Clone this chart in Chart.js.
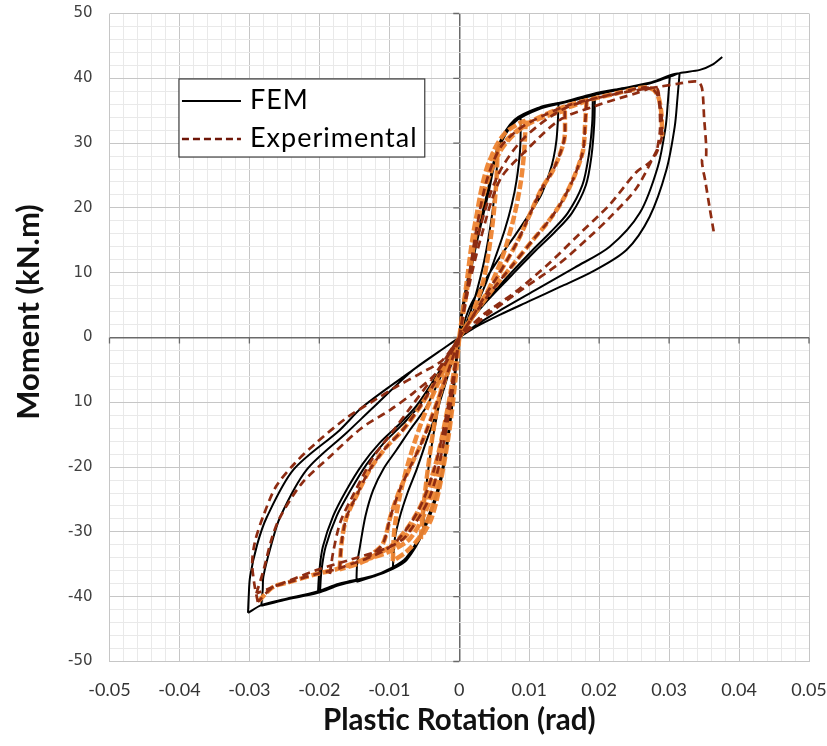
<!DOCTYPE html>
<html>
<head>
<meta charset="utf-8">
<script src="https://cdn.jsdelivr.net/npm/chart.js@4.4.1/dist/chart.umd.min.js"></script>
<style>
  html, body { margin: 0; padding: 0; background: #ffffff; }
  #wrap { width: 827px; height: 746px; position: relative; }
</style>
</head>
<body>
<div id="wrap"><canvas id="c"></canvas></div>
<script>
// ---------- chart data (rotation [rad], moment [kN.m]); null = break between branches ----------
const xTickLabels = ['-0.05', '-0.04', '-0.03', '-0.02', '-0.01', '0', '0.01', '0.02', '0.03', '0.04', '0.05'];
const yTickLabels = ['-50', '-40', '-30', '-20', '10', '0', '10', '20', '30', '40', '50'];
const xTitle = 'Plastic Rotation (rad)';
const yTitle = 'Moment (kN.m)';
const seriesNames = ['FEM', 'Experimental'];

// FEM (black solid)
const femCurve = [
  // cycle ~0.005
  [0,0],[0.0003,3.7],[0.0012,9],[0.0022,14],[0.0032,18.8],[0.0041,22.8],[0.0055,29.4], null,
  [0.0055,29.4],[0.0053,25],[0.0047,19],[0.0036,12],[0.0022,6],[0.001,2.2],[0,0], null,
  [0,0],[-0.0004,-4],[-0.0014,-14.3],[-0.0028,-23],[-0.0042,-27.5],[-0.0052,-30.2], null,
  [-0.0052,-30.2],[-0.0049,-25],[-0.0042,-18.5],[-0.0031,-11.5],[-0.0018,-5.5],[-0.0007,-2],[0,0], null,
  // cycle ~0.009
  [0,0],[0.0003,3.7],[0.0022,14],[0.0041,22.8],[0.0055,29.4],[0.0068,32],[0.0079,33.4],[0.0088,33.9], null,
  [0.0088,33.9],[0.0087,29],[0.0082,24.3],[0.0075,20.5],[0.0065,16.6],[0.0052,12.5],[0.0036,7.8],[0.0018,3.5],[0,0], null,
  [0,0],[-0.0004,-4],[-0.0014,-14.3],[-0.0028,-23],[-0.0052,-30.2],[-0.0075,-34.3],[-0.0095,-35.7], null,
  [-0.0095,-35.7],[-0.0092,-31],[-0.0085,-27.7],[-0.0074,-24],[-0.0061,-20.4],[-0.0047,-16],[-0.0033,-11.7],[-0.0018,-6.5],[-0.0007,-2.5],[0,0], null,
  // cycle ~0.014
  [0,0],[0.0003,3.7],[0.0022,14],[0.0041,22.8],[0.0055,29.4],[0.0079,33.6],[0.0117,35.6],[0.0142,36.2], null,
  [0.0142,36.2],[0.0141,33.5],[0.0139,30.5],[0.0135,27.8],[0.0129,25.4],[0.0117,22],[0.0101,19.2],[0.008,15.8],[0.0058,12.4],[0.0035,8.5],[0.0015,4.7],[0,0], null,
  [0,0],[-0.0004,-4],[-0.0014,-14.3],[-0.0028,-23],[-0.0052,-30.2],[-0.0075,-34.3],[-0.0095,-35.7],[-0.0123,-36.9],[-0.0147,-37.7], null,
  [-0.0147,-37.7],[-0.0146,-35],[-0.0142,-32.3],[-0.0134,-27.5],[-0.0123,-23.5],[-0.0108,-20.2],[-0.009,-17.4],[-0.007,-14.2],[-0.0047,-10.7],[-0.0022,-5],[0,0], null,
  // cycles ~0.02 (two)
  [0,0],[0.0003,3.7],[0.0022,14],[0.0041,22.8],[0.0055,29.4],[0.0079,33.6],[0.0117,35.6],[0.0151,36.4],[0.0191,37.6], null,
  [0.0191,37.6],[0.019,33],[0.0185,28],[0.0176,23.5],[0.0155,19.2],[0.013,16.2],[0.0105,13.5],[0.007,9.5],[0.0034,5.2],[0.001,1.8],[0,0], null,
  [0,0],[-0.0004,-4],[-0.0014,-14.3],[-0.0028,-23],[-0.0052,-30.2],[-0.0075,-34.3],[-0.0095,-35.7],[-0.0123,-36.9],[-0.0171,-38.2],[-0.0202,-39.4], null,
  [-0.0202,-39.4],[-0.02,-36],[-0.0195,-32.3],[-0.018,-27.5],[-0.0161,-23.5],[-0.0138,-19.5],[-0.0114,-16.3],[-0.0085,-13.3],[-0.0061,-10.5],[-0.003,-5.5],[-0.001,-2],[0,0], null,
  [0,0],[0.0004,3.5],[0.0023,13.6],[0.0042,22.4],[0.0056,29],[0.008,33.3],[0.0118,35.4],[0.0152,36.3],[0.0194,37.4], null,
  [0.0194,37.4],[0.0193,33],[0.0189,28],[0.0181,23.5],[0.0161,19.2],[0.0136,16.2],[0.011,13.5],[0.0074,9.5],[0.0036,5.2],[0.0011,1.8],[0,0], null,
  [0,0],[-0.0005,-3.8],[-0.0015,-14],[-0.0029,-22.6],[-0.0053,-29.8],[-0.0076,-34],[-0.0096,-35.5],[-0.0124,-36.8],[-0.0172,-38],[-0.0199,-39.2], null,
  [-0.0199,-39.2],[-0.0197,-36],[-0.0191,-32.3],[-0.0175,-27.5],[-0.0155,-23.5],[-0.0132,-19.5],[-0.0108,-16.3],[-0.008,-13.3],[-0.0057,-10.5],[-0.0028,-5.5],[-0.001,-2],[0,0], null,
  // cycles ~0.03 (two)
  [0,0],[0.0003,3.7],[0.0022,14],[0.0041,22.8],[0.0055,29.4],[0.0079,33.6],[0.0117,35.6],[0.0151,36.4],[0.0191,37.6],[0.023,38.4],[0.0272,39.2],[0.0301,40.3], null,
  [0.0301,40.3],[0.0298,36],[0.0295,32.5],[0.0284,26.4],[0.0258,19.2],[0.0215,14],[0.0165,10.8],[0.011,7.4],[0.006,4.3],[0.0025,2],[0,0], null,
  [0,0],[-0.0004,-4],[-0.0014,-14.3],[-0.0028,-23],[-0.0052,-30.2],[-0.0075,-34.3],[-0.0095,-35.7],[-0.0123,-36.9],[-0.0171,-38.2],[-0.0202,-39.4],[-0.025,-40.5],[-0.0283,-41.4], null,
  [-0.0283,-41.4],[-0.0281,-39],[-0.028,-36.9],[-0.027,-32.5],[-0.0256,-27.7],[-0.0218,-20.4],[-0.0161,-14.7],[-0.0125,-11],[-0.0066,-5],[-0.002,-1.5],[0,0], null,
  [0,0],[0.0004,3.5],[0.0023,13.6],[0.0042,22.4],[0.0056,29],[0.008,33.3],[0.0118,35.4],[0.0152,36.3],[0.0192,37.4],[0.0232,38.3],[0.0275,39.4],[0.0305,40.6],[0.0315,40.8], null,
  [0.0315,40.8],[0.0312,37],[0.0308,32.5],[0.0296,25.8],[0.0272,18.6],[0.0239,13.5],[0.0191,10.2],[0.0144,7.8],[0.01,5.6],[0.006,3.6],[0.0025,1.7],[0,0], null,
  [0,0],[-0.0005,-3.8],[-0.0015,-14],[-0.0029,-22.6],[-0.0053,-29.8],[-0.0076,-34],[-0.0096,-35.5],[-0.0124,-36.8],[-0.0172,-38],[-0.0203,-39.2],[-0.025,-40.4],[-0.0283,-41.3],[-0.0302,-42.5], null,
  [-0.0302,-42.5],[-0.0301,-40],[-0.0299,-36.9],[-0.0289,-32],[-0.0275,-27.7],[-0.0237,-20.4],[-0.0171,-14.3],[-0.0138,-10.7],[-0.0066,-5],[-0.002,-1.5],[0,0], null,
  // final push
  [0,0],[0.0003,3.7],[0.0022,14],[0.0041,22.8],[0.0055,29.4],[0.0079,33.6],[0.0117,35.6],[0.0151,36.4],[0.0191,37.6],[0.023,38.4],[0.0272,39.3],[0.0305,40.4],[0.0315,40.8],[0.0344,41.3],[0.0362,42.1],[0.0376,43.3]
];

// Experimental (dark red dashed)
const expCurve = [
  [0.0151,35],[0.015,30.5],[0.0135,26],[0.0117,22.8],[0.0084,15],[0.0055,9.5],[0.0036,6.3],[0.0015,2.5],[0,0], null,
  [-0.0135,-34.3],[-0.0125,-33.5],[-0.0109,-31.8],[-0.0098,-27.5],[-0.0085,-23.5],[-0.0068,-19.5],[-0.0052,-15.8],[-0.003,-9.5],[-0.0012,-4],[0,0], null,
  [0.0182,36.5],[0.018,33],[0.0177,28.9],[0.0165,25],[0.0148,21.2],[0.0128,18],[0.0105,15],[0.0075,11],[0.0044,6.9],[0.0018,3],[0,0], null,
  [-0.0171,-35.8],[-0.0168,-31.5],[-0.0161,-27.7],[-0.0145,-24],[-0.0128,-20.4],[-0.0105,-17],[-0.0081,-14.3],[-0.0055,-10.5],[-0.0033,-6.6],[-0.0012,-2.5],[0,0], null,
  [-0.0185,-36.5],[-0.018,-33],[-0.017,-28.5],[-0.0153,-24.6],[-0.0123,-18.5],[-0.0095,-14.5],[-0.0069,-10.7],[-0.004,-6.5],[-0.0015,-2.5],[0,0], null,
  [0,0],[0.0012,8],[0.0025,17],[0.004,24.5],[0.006,29.5],[0.009,32.5],[0.0125,34.5],[0.0155,35.8],[0.019,36.8],[0.023,37.8],[0.0265,38.6],[0.0278,38.2],[0.0285,37],[0.0289,34.5],[0.029,31], null,
  [0.029,31],[0.0282,28.5],[0.0272,27],[0.0253,25.5],[0.0215,20.5],[0.0172,16],[0.0129,11.5],[0.008,7],[0.0034,3.5],[0,0], null,
  [0,0],[-0.0015,-10],[-0.0035,-20],[-0.006,-27],[-0.0099,-32.3],[-0.0171,-35.6],[-0.0204,-36.5],[-0.0245,-37.8],[-0.0266,-38.5],[-0.0288,-40.8], null,
  [-0.0288,-40.8],[-0.0293,-38],[-0.0296,-34.8],[-0.0292,-31.5],[-0.028,-27.5],[-0.0262,-23],[-0.0235,-19.4],[-0.0205,-16.3],[-0.0161,-12.4],[-0.012,-9.6],[-0.009,-7.6],[-0.0055,-5.5],[-0.0024,-3.5],[0,0], null,
  [0,0],[0.0012,7],[0.003,15],[0.0058,24.3],[0.0096,28.9],[0.0144,33.6],[0.0191,35.6],[0.0253,37.7],[0.0282,38.5],[0.0286,36],[0.0287,32],[0.0283,29], null,
  [0.0283,29],[0.0253,23],[0.0215,18.5],[0.0186,15.5],[0.0144,11.5],[0.0091,7.5],[0.004,3.5],[0,0], null,
  [0,0],[-0.0015,-12],[-0.004,-24],[-0.0075,-30.5],[-0.0099,-32.3],[-0.0156,-34.3],[-0.0204,-35.9],[-0.0266,-38.5],[-0.029,-39.5], null,
  [-0.029,-39.5],[-0.028,-36],[-0.0268,-31],[-0.0256,-27.7],[-0.0225,-22.5],[-0.0185,-18.4],[-0.014,-14],[-0.0099,-11.2],[-0.0065,-8.5],[-0.0033,-5.5],[0,0], null,
  [0,0],[0.0012,8],[0.003,17],[0.0055,25],[0.009,30.5],[0.0144,35],[0.0191,36.8],[0.0245,38],[0.0286,38.7],[0.0315,39.2],[0.0341,39.5],[0.0347,38.5],[0.035,34],[0.0353,28],[0.0347,27.4],[0.0352,24],[0.0358,20],[0.0364,16.2]
];

// Experimental, early cycles (orange thick dashed trace)
const expEarlyCurve = [
  [0,0],[0.0008,6],[0.0018,14],[0.003,22],[0.0042,27],[0.0055,29.5], null,
  [0.0055,29.5],[0.0053,24],[0.0047,17],[0.0035,9],[0.0018,3.5],[0,0], null,
  [0,0],[-0.0006,-7],[-0.0015,-15],[-0.0028,-23],[-0.004,-28],[-0.0055,-31], null,
  [-0.0055,-31],[-0.005,-25],[-0.0042,-18],[-0.003,-10],[-0.0015,-4],[0,0], null,
  [0,0],[0.001,8],[0.002,16],[0.0033,23],[0.0048,28.5],[0.0065,31.5],[0.0085,33],[0.0095,33.5], null,
  [0.0095,33.5],[0.0093,29],[0.0088,24],[0.0078,18.5],[0.0062,12.5],[0.004,7],[0.0018,3],[0,0], null,
  [0,0],[-0.0008,-8],[-0.002,-17],[-0.0035,-25],[-0.0055,-30.5],[-0.0075,-33],[-0.0095,-34.5], null,
  [-0.0095,-34.5],[-0.0093,-30],[-0.0086,-25],[-0.0072,-19],[-0.0052,-12.5],[-0.003,-7],[-0.0012,-2.5],[0,0], null,
  [0,0],[0.0012,8],[0.0025,17],[0.004,24],[0.006,29],[0.0085,32],[0.0115,33.8],[0.0151,35], null,
  [0.0151,35],[0.015,30.5],[0.0135,26],[0.0117,22.8],[0.0084,15],[0.0055,9.5],[0.0036,6.3],[0.0015,2.5],[0,0], null,
  [0,0],[-0.001,-8],[-0.0025,-18],[-0.0045,-26],[-0.007,-31],[-0.0099,-33],[-0.0125,-34],[-0.0135,-34.3], null,
  [-0.0135,-34.3],[-0.0125,-33.5],[-0.0109,-31.8],[-0.0098,-27.5],[-0.0085,-23.5],[-0.0068,-19.5],[-0.0052,-15.8],[-0.003,-9.5],[-0.0012,-4],[0,0], null,
  [0,0],[0.0012,8],[0.0025,17],[0.004,24.5],[0.006,29.5],[0.009,32.5],[0.0125,34.5],[0.0155,35.5],[0.0182,36.5], null,
  [0.0182,36.5],[0.018,33],[0.0177,28.9],[0.0165,25],[0.0148,21.2],[0.0128,18],[0.0105,15],[0.0075,11],[0.0044,6.9],[0.0018,3],[0,0], null,
  [0,0],[-0.0012,-9],[-0.003,-18],[-0.005,-25.5],[-0.0075,-30.5],[-0.0099,-32.3],[-0.0135,-34.5],[-0.0171,-35.8], null,
  [-0.0171,-35.8],[-0.0168,-31.5],[-0.0161,-27.7],[-0.0145,-24],[-0.0128,-20.4],[-0.0105,-17],[-0.0081,-14.3],[-0.0055,-10.5],[-0.0033,-6.6],[-0.0012,-2.5],[0,0], null,
  [0,0],[0.0012,8],[0.0025,17],[0.004,24.5],[0.006,29.5],[0.009,32.5],[0.0125,34.5],[0.0155,35.8],[0.019,36.8],[0.023,37.8],[0.0265,38.6],[0.0278,38.2],[0.0285,37],[0.0289,34.5],[0.029,31], null,
  [0,0],[-0.0015,-10],[-0.0035,-20],[-0.006,-27],[-0.0099,-32.3],[-0.0171,-35.6],[-0.0204,-36.5],[-0.0245,-37.8],[-0.0266,-38.5],[-0.0288,-40.8]
];

// ---------- helpers ----------
function toXY(list) {
  return list.map(p => p === null ? { x: null, y: null } : { x: p[0], y: p[1] });
}
function nearMultiple(v, step) {
  const k = Math.round(v / step);
  return Math.abs(v - k * step) < step * 1e-4;
}

const COLORS = { fem: '#000000', exp: '#8e2c12', expLegend: '#6e1608', expEarly: 'rgba(238,132,48,0.95)', major: '#c6c6c6', minor: '#e9e9e9', axis: '#6a6a6a' };

// zero axes tick marks
const zeroAxisTicks = {
  id: 'zeroAxisTicks',
  beforeDatasetsDraw(chart) {
    const { ctx, scales: { x, y } } = chart;
    const x0 = x.getPixelForValue(0), y0 = y.getPixelForValue(0);
    ctx.save();
    ctx.strokeStyle = COLORS.axis;
    ctx.lineWidth = 1.3;
    ctx.beginPath();
    for (let i = 0; i < xTickLabels.length; i++) {
      const px = x.getPixelForValue(parseFloat(xTickLabels[i]));
      ctx.moveTo(px, y0); ctx.lineTo(px, y0 + 6);
    }
    for (let j = -5; j <= 5; j++) {
      const py = y.getPixelForValue(j * 10);
      ctx.moveTo(x0 - 6, py); ctx.lineTo(x0, py);
    }
    ctx.stroke();
    ctx.restore();
  }
};

// axis titles (Y title sits a little above the plot centre, as in the original)
const axisTitles = {
  id: 'axisTitles',
  afterDraw(chart) {
    const { ctx, chartArea } = chart;
    ctx.save();
    ctx.fillStyle = '#111111';
    ctx.textAlign = 'center';
    ctx.textBaseline = 'middle';
    ctx.font = 'bold 31px Lato';
    ctx.translate(29, 312);
    ctx.rotate(-Math.PI / 2);
    ctx.fillText(yTitle, 0, 0);
    ctx.restore();
    ctx.save();
    ctx.fillStyle = '#111111';
    ctx.textAlign = 'center';
    ctx.textBaseline = 'middle';
    ctx.font = 'bold 29.5px Lato';
    ctx.fillText(xTitle, (chartArea.left + chartArea.right) / 2, 720);
    ctx.restore();
  }
};

// boxed legend inside the plot area
const boxLegend = {
  id: 'boxLegend',
  afterDraw(chart) {
    const { ctx, scales: { x, y } } = chart;
    const left = x.getPixelForValue(-0.04007), right = x.getPixelForValue(-0.00493);
    const top = y.getPixelForValue(39.9), bottom = y.getPixelForValue(27.85);
    ctx.save();
    ctx.fillStyle = '#ffffff';
    ctx.fillRect(left, top, right - left, bottom - top);
    ctx.strokeStyle = '#3a3a3a';
    ctx.lineWidth = 1.2;
    ctx.strokeRect(left, top, right - left, bottom - top);
    const rowY = [top + 21, top + 59];
    const strokes = [COLORS.fem, COLORS.expLegend];
    for (let i = 0; i < 2; i++) {
      ctx.beginPath();
      ctx.strokeStyle = strokes[i];
      ctx.lineWidth = i === 0 ? 2 : 2.5;
      ctx.setLineDash(i === 0 ? [] : [7, 4]);
      ctx.moveTo(left + 3, rowY[i] + 1);
      ctx.lineTo(left + 62, rowY[i] + 1);
      ctx.stroke();
      ctx.setLineDash([]);
      ctx.fillStyle = '#000';
      ctx.font = '27px Lato';
      if ('letterSpacing' in ctx) ctx.letterSpacing = '1px';
      ctx.textBaseline = 'middle';
      ctx.textAlign = 'left';
      ctx.fillText(seriesNames[i], left + 71, rowY[i]);
    }
    ctx.restore();
  }
};

const hidden = 'rgba(0,0,0,0)';

new Chart(document.getElementById('c'), {
  type: 'scatter',
  data: {
    datasets: [
      { label: seriesNames[0], data: toXY(femCurve), borderColor: COLORS.fem, borderWidth: 2, showLine: true, pointRadius: 0, tension: 0.3, spanGaps: false, order: 3 },
      { label: seriesNames[1], data: toXY(expCurve), borderColor: COLORS.exp, borderWidth: 2.7, borderDash: [8, 5], showLine: true, pointRadius: 0, tension: 0.3, spanGaps: false, order: 1 },
      { label: seriesNames[1], data: toXY(expEarlyCurve), borderColor: COLORS.expEarly, borderWidth: 4.5, borderDash: [9, 3], showLine: true, pointRadius: 0, tension: 0.3, spanGaps: false, order: 2 }
    ]
  },
  options: {
    responsive: true,
    maintainAspectRatio: false,
    animation: false,
    layout: { padding: { top: 13.5, right: 18, bottom: 0, left: 0 } },
    plugins: { legend: { display: false }, tooltip: { enabled: false } },
    scales: {
      x: {
        type: 'linear', min: -0.05, max: 0.05,
        border: { display: false },
        grid: {
          drawTicks: true, tickLength: 18, tickColor: hidden,
          color: c => nearMultiple(c.tick.value, 0.01) ? (Math.abs(c.tick.value) < 1e-9 ? COLORS.axis : COLORS.major) : COLORS.minor,
          lineWidth: c => Math.abs(c.tick.value) < 1e-9 ? 1.5 : 1
        },
        ticks: {
          stepSize: 0.002, autoSkip: false, maxRotation: 0, padding: 0,
          color: '#333333', font: { family: 'Lato', size: 18 },
          callback: v => nearMultiple(v, 0.01) ? xTickLabels[Math.round(v / 0.01) + 5] : ''
        },
        afterFit: s => { s.height = 84.5; }
      },
      y: {
        type: 'linear', min: -50, max: 50,
        border: { display: false },
        grid: {
          drawTicks: true, tickLength: 17, tickColor: hidden,
          color: c => nearMultiple(c.tick.value, 10) ? (Math.abs(c.tick.value) < 1e-9 ? COLORS.axis : COLORS.major) : COLORS.minor,
          lineWidth: c => Math.abs(c.tick.value) < 1e-9 ? 1.5 : 1
        },
        ticks: {
          stepSize: 2, autoSkip: false, padding: 0,
          color: '#404040', font: { family: 'DejaVu Sans', size: 15 },
          callback: v => nearMultiple(v, 10) ? yTickLabels[Math.round(v / 10) + 5] : ''
        },
        afterFit: s => { s.width = 109.5; }
      }
    }
  },
  plugins: [zeroAxisTicks, axisTitles, boxLegend]
});
</script>
</body>
</html>
